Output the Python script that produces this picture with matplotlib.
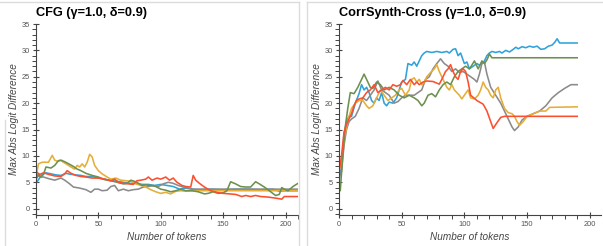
import matplotlib
matplotlib.use("Agg")
import matplotlib.pyplot as plt
from matplotlib.lines import Line2D
from matplotlib.ticker import MultipleLocator

plt.rcParams['font.family'] = ['Liberation Sans', 'DejaVu Sans']

# ---------------- data: CFG panel ----------------
cfg_blue_x = [0, 2, 5, 8, 12, 16, 20, 24, 28, 32, 36, 40, 45, 50, 55, 60, 65, 70, 75, 80, 85, 90, 95, 100, 105, 110, 115, 120, 125, 130, 140, 150, 160, 170, 180, 190, 195, 200, 210]
cfg_blue_y = [4.8, 5.5, 6.5, 6.8, 6.6, 6.4, 6.3, 6.7, 6.5, 6.4, 6.3, 6.1, 6.1, 5.8, 5.6, 5.3, 5.2, 5.0, 4.8, 4.8, 4.6, 4.6, 4.4, 4.6, 4.4, 4.2, 3.7, 3.9, 3.7, 3.6, 3.7, 3.6, 3.7, 3.7, 3.6, 3.7, 3.3, 3.4, 3.4]

cfg_green_x = [0, 2, 4, 6, 8, 12, 15, 18, 20, 23, 27, 30, 33, 36, 40, 45, 50, 55, 60, 65, 70, 73, 76, 80, 85, 88, 92, 96, 100, 104, 108, 112, 116, 120, 125, 130, 135, 138, 142, 146, 150, 153, 156, 160, 164, 168, 172, 176, 179, 183, 187, 192, 195, 197, 199, 202, 206, 210]
cfg_green_y = [5.5, 6.5, 6.0, 6.5, 7.9, 7.7, 8.2, 9.1, 9.2, 8.9, 8.4, 8.0, 7.5, 7.2, 6.7, 6.3, 6.0, 5.5, 5.3, 5.0, 4.7, 4.8, 5.4, 5.1, 4.4, 4.5, 4.4, 4.2, 3.7, 3.5, 3.2, 3.4, 3.7, 3.4, 3.4, 3.2, 2.8, 2.9, 3.2, 2.9, 3.0, 3.4, 5.1, 4.7, 4.2, 4.1, 4.1, 5.1, 4.7, 4.1, 3.4, 2.5, 2.7, 4.0, 3.7, 3.4, 4.2, 4.8]

cfg_gray_x = [0, 3, 6, 10, 15, 20, 23, 27, 30, 35, 40, 44, 47, 50, 53, 57, 60, 63, 66, 70, 74, 78, 82, 86, 90, 94, 98, 102, 106, 110, 114, 118, 122, 126, 130, 210]
cfg_gray_y = [6.6, 6.0, 6.0, 5.7, 5.4, 5.8, 5.4, 4.7, 4.1, 3.9, 3.6, 3.1, 3.7, 3.7, 3.4, 3.5, 4.2, 4.4, 3.4, 3.7, 3.4, 3.6, 3.7, 4.1, 4.2, 4.4, 4.2, 4.7, 5.0, 4.8, 4.4, 4.1, 3.9, 3.7, 3.7, 3.7]

cfg_orange_x = [0, 2, 5, 10, 13, 15, 17, 20, 24, 28, 31, 33, 35, 37, 39, 41, 43, 45, 47, 50, 53, 57, 60, 64, 68, 72, 76, 80, 84, 88, 92, 96, 100, 104, 108, 112, 116, 120, 125, 210]
cfg_orange_y = [6.0, 8.5, 8.8, 8.8, 10.1, 9.2, 9.0, 9.1, 8.5, 7.9, 7.5, 8.2, 7.9, 8.5, 7.9, 8.8, 10.3, 9.8, 8.2, 7.2, 6.6, 6.0, 5.6, 5.8, 5.4, 5.3, 5.2, 4.7, 4.4, 4.1, 3.6, 3.2, 2.9, 3.1, 2.8, 3.3, 3.4, 3.3, 3.4, 3.4]

cfg_red_x = [0, 3, 6, 10, 15, 20, 23, 25, 28, 32, 36, 40, 45, 50, 55, 60, 63, 66, 70, 74, 78, 81, 84, 88, 90, 93, 97, 100, 104, 107, 110, 113, 117, 120, 124, 126, 128, 131, 135, 140, 145, 150, 155, 160, 165, 168, 172, 176, 180, 186, 192, 197, 199, 210]
cfg_red_y = [7.0, 6.5, 6.8, 6.5, 6.2, 6.1, 6.6, 7.2, 6.7, 6.3, 6.1, 6.0, 5.8, 5.8, 5.6, 5.3, 5.6, 5.0, 4.8, 4.7, 4.6, 5.3, 5.4, 5.6, 6.0, 5.4, 5.8, 5.6, 6.0, 5.4, 5.8, 5.0, 4.4, 4.2, 4.1, 6.3, 5.4, 4.8, 4.1, 3.4, 3.1, 2.9, 2.8, 2.7, 2.3, 2.5, 2.3, 2.5, 2.3, 2.2, 2.0, 1.8, 2.3, 2.3]

# ---------------- data: CorrSynth-Cross panel ----------------
cs_blue_x = [0, 2, 4, 6, 8, 10, 13, 16, 18, 20, 22, 24, 26, 28, 30, 32, 34, 36, 38, 40, 43, 46, 48, 50, 53, 55, 58, 60, 62, 64, 66, 68, 70, 74, 78, 82, 86, 88, 91, 93, 95, 97, 100, 102, 104, 107, 110, 112, 114, 116, 118, 120, 122, 125, 128, 130, 133, 136, 139, 141, 143, 146, 149, 152, 155, 158, 161, 164, 167, 170, 172, 174, 176, 178, 190]
cs_blue_y = [5.3, 8.0, 14.0, 16.5, 17.5, 17.5, 20.0, 21.8, 23.5, 22.5, 23.0, 22.0, 20.5, 20.0, 21.0, 20.5, 22.0, 20.0, 19.5, 20.2, 20.0, 21.0, 22.5, 24.0, 24.5, 27.5, 27.2, 27.8, 27.0, 28.0, 29.0, 29.5, 29.8, 29.6, 29.8, 29.6, 29.8, 29.5, 30.2, 30.3, 29.0, 29.5, 27.5, 27.8, 26.5, 27.0, 27.5, 27.2, 27.5, 28.0, 29.0, 29.5, 29.8, 29.6, 29.8, 29.5, 30.0, 29.7, 30.2, 30.6, 30.3, 30.7, 30.5, 30.8, 30.6, 30.8, 30.2, 30.3, 30.8, 31.0, 31.5, 32.2, 31.4, 31.4, 31.4]

cs_green_x = [0, 1, 3, 5, 7, 9, 12, 15, 18, 20, 22, 25, 27, 30, 33, 36, 40, 44, 48, 52, 56, 60, 63, 66, 68, 71, 74, 77, 80, 83, 86, 89, 92, 95, 98, 101, 104, 106, 108, 111, 114, 116, 118, 120, 122, 190]
cs_green_y = [4.0, 3.4, 10.0, 15.5, 19.0, 22.0, 21.8, 23.0, 24.5, 25.5, 24.5, 23.0, 22.8, 24.0, 23.5, 22.5, 23.0, 22.5, 21.5, 21.0, 21.5, 21.0, 20.5, 19.5, 20.0, 21.5, 21.8, 21.2, 22.5, 23.5, 24.0, 23.5, 25.0, 26.0, 26.5, 27.0, 26.5, 27.2, 28.0, 26.5, 28.0, 27.5, 28.2, 29.3, 28.6, 28.6]

cs_gray_x = [0, 2, 4, 6, 8, 10, 13, 16, 19, 22, 25, 28, 31, 34, 37, 40, 44, 47, 50, 53, 56, 60, 63, 66, 69, 72, 75, 78, 81, 84, 87, 90, 93, 96, 99, 102, 105, 108, 110, 112, 114, 116, 118, 121, 125, 129, 132, 135, 138, 140, 143, 146, 150, 155, 160, 165, 170, 175, 180, 185, 190]
cs_gray_y = [6.0, 7.0, 12.0, 15.0, 16.5, 17.0, 17.5, 19.0, 21.0, 20.5, 21.5, 22.5, 24.2, 22.5, 22.0, 21.5, 20.0, 20.3, 21.0, 21.5, 21.5, 21.5, 22.0, 22.5, 24.5, 25.0, 26.5, 27.5, 28.4, 27.5, 27.0, 26.0, 26.5, 25.8, 26.0, 25.5, 25.0, 24.5, 24.0, 25.5, 27.5, 27.8, 25.5, 23.0, 21.5, 20.0, 18.5, 17.0, 15.5, 14.8, 15.5, 16.8, 17.5, 18.0, 18.5, 19.5, 21.0, 22.0, 22.8, 23.5, 23.5]

cs_orange_x = [0, 2, 4, 6, 8, 10, 13, 16, 19, 22, 24, 27, 30, 33, 36, 39, 42, 45, 48, 50, 53, 56, 58, 60, 62, 64, 66, 68, 70, 73, 76, 78, 80, 83, 86, 88, 90, 92, 94, 96, 98, 100, 103, 105, 108, 111, 113, 115, 117, 119, 121, 123, 125, 127, 129, 132, 135, 138, 140, 142, 144, 147, 150, 155, 160, 165, 168, 190]
cs_orange_y = [7.0, 9.0, 13.0, 15.5, 17.5, 19.0, 20.0, 20.5, 20.5, 19.5, 19.0, 19.5, 21.0, 22.5, 21.5, 20.5, 21.0, 21.5, 22.5, 22.8, 21.5, 22.5, 24.5, 24.8, 24.0, 24.5, 23.5, 24.0, 25.0, 25.8, 26.5, 27.3, 26.0, 24.5, 23.0, 22.5, 23.5, 22.5, 22.0, 21.5, 20.8, 21.5, 22.5, 21.0, 20.8, 21.5, 22.5, 24.0, 23.0, 22.5, 21.5, 21.0, 22.5, 23.0, 21.0, 19.0, 18.2, 18.0, 17.5, 16.5, 15.8, 16.5, 17.5, 18.0, 18.5, 18.5, 19.2, 19.3]

cs_red_x = [0, 2, 4, 6, 8, 10, 12, 14, 16, 19, 22, 25, 28, 31, 34, 37, 40, 43, 46, 49, 51, 54, 57, 60, 62, 64, 67, 70, 75, 80, 82, 85, 87, 89, 91, 93, 95, 97, 99, 101, 103, 105, 110, 115, 118, 121, 123, 126, 129, 132, 190]
cs_red_y = [7.0, 10.0, 14.5, 16.0, 17.0, 18.0, 19.5, 20.5, 20.8, 21.0, 22.0, 22.5, 23.5, 22.0, 22.5, 23.0, 22.5, 23.5, 23.2, 23.5, 24.3, 23.5, 24.5, 23.5, 24.0, 23.5, 24.0, 24.2, 24.1, 23.6, 24.5, 26.0, 26.5, 27.3, 26.0, 25.0, 24.5, 26.0, 26.5, 26.0, 24.0, 21.5, 20.5, 19.8, 18.5, 16.5, 15.2, 16.3, 17.3, 17.5, 17.5]

titles = ["CFG (γ=1.0, δ=0.9)", "CorrSynth-Cross (γ=1.0, δ=0.9)"]
xlabel = "Number of tokens"
ylabel = "Max Abs Logit Difference"

C_BLUE, C_GREEN, C_GRAY, C_ORANGE, C_RED = "#30a2da", "#6d904f", "#8b8b8b", "#e5ae38", "#fc4f30"

panels = [
    [(cfg_blue_x, cfg_blue_y, C_BLUE), (cfg_gray_x, cfg_gray_y, C_GRAY),
     (cfg_orange_x, cfg_orange_y, C_ORANGE), (cfg_green_x, cfg_green_y, C_GREEN),
     (cfg_red_x, cfg_red_y, C_RED)],
    [(cs_blue_x, cs_blue_y, C_BLUE), (cs_gray_x, cs_gray_y, C_GRAY),
     (cs_orange_x, cs_orange_y, C_ORANGE), (cs_green_x, cs_green_y, C_GREEN),
     (cs_red_x, cs_red_y, C_RED)],
]

W, H = 603, 246
fig = plt.figure(figsize=(W / 100, H / 100), dpi=100)

def px_rect(x0, ytop, x1, ybot):
    return [x0 / W, 1 - ybot / H, (x1 - x0) / W, (ybot - ytop) / H]

axes_rects = [px_rect(36, 24, 298, 215), px_rect(339, 24, 601, 215)]
xlims = [(0, 210), (0, 209)]
AX_COL = "#444444"

for i, ax_rect in enumerate(axes_rects):
    ax = fig.add_axes(ax_rect)
    for xs, ys, col in panels[i]:
        ax.plot(xs, ys, color=col, lw=1.15, solid_joinstyle='round')
    ax.set_xlim(*xlims[i])
    ax.set_ylim(-1.2, 35)
    for s in ['top', 'right']:
        ax.spines[s].set_visible(False)
    for s in ['left', 'bottom']:
        ax.spines[s].set_color(AX_COL)
        ax.spines[s].set_linewidth(0.8)
    ax.xaxis.set_major_locator(MultipleLocator(50))
    ax.xaxis.set_minor_locator(MultipleLocator(10))
    ax.yaxis.set_major_locator(MultipleLocator(5))
    ax.yaxis.set_minor_locator(MultipleLocator(1))
    ax.tick_params(which='major', direction='inout', length=5, width=0.8,
                   color=AX_COL, labelsize=5.4, labelcolor="#555555", pad=2)
    ax.tick_params(which='minor', direction='out', length=2.8, width=0.7, color=AX_COL)
    ax.set_xlabel(xlabel, fontsize=7.2, style='italic', color="#444444", labelpad=3)
    ax.set_ylabel(ylabel, fontsize=7.2, style='italic', color="#444444", labelpad=2)
    ax.set_title(titles[i], loc='left', fontsize=9.2, fontweight='bold', pad=6, x=0.0)
    ax.patch.set_alpha(0)

# panel frames
BC = "#dcdcdc"
def fline(x0, y0, x1, y1):
    fig.add_artist(Line2D([x0 / W, x1 / W], [1 - y0 / H, 1 - y1 / H],
                          transform=fig.transFigure, color=BC, lw=1.0))

fline(0, 1.5, 299, 1.5)
fline(299, 1.5, 299, 246)
fline(5, 120, 5, 246)
fline(307, 2, 307, 246)
fline(307, 2, 603, 2)

fig.savefig("out.png", dpi=100)
